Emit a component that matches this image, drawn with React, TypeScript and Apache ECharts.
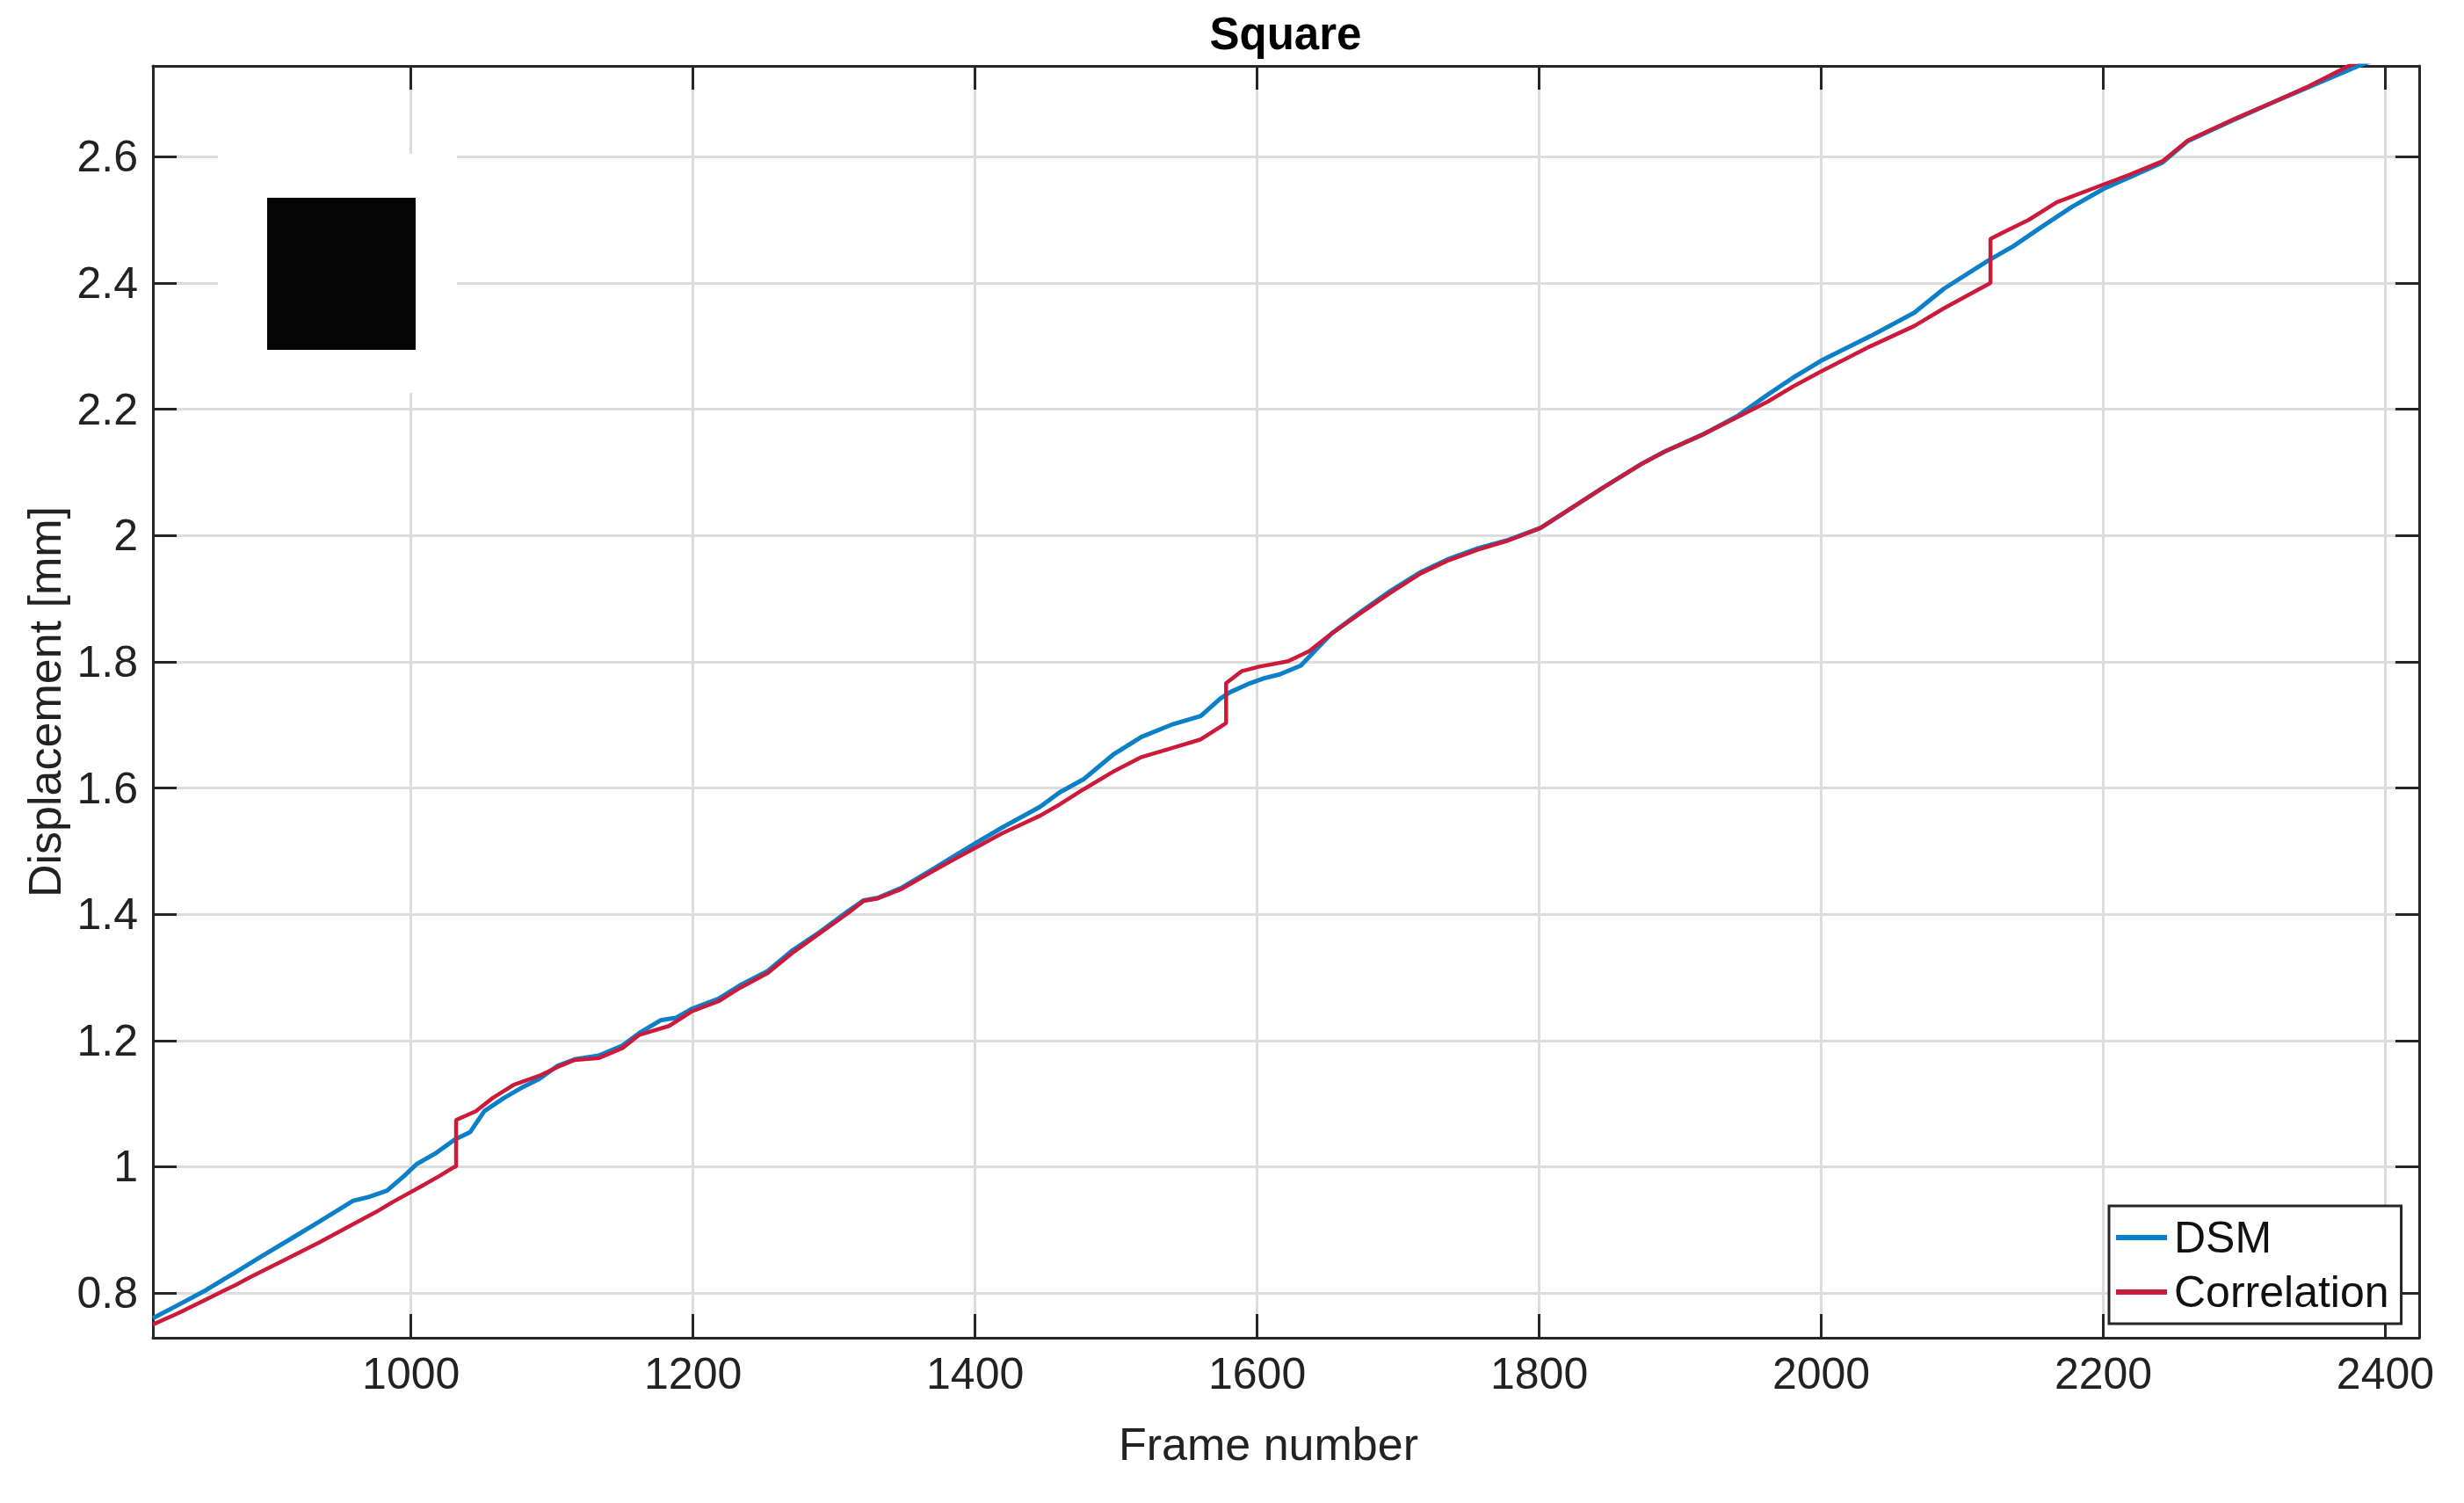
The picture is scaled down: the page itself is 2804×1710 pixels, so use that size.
import React, { useEffect, useRef } from "react";
import * as echarts from "echarts";

const chartTitle = "Square";
const xName = "Frame number";
const yName = "Displacement [mm]";
const seriesNames = ["DSM", "Correlation"];

const xTicks = [1000, 1200, 1400, 1600, 1800, 2000, 2200, 2400];
const yTicks = [0.8, 1, 1.2, 1.4, 1.6, 1.8, 2, 2.2, 2.4, 2.6];

const dsmFrames = [
  817, 835, 855, 875, 894, 915, 935, 959, 970, 983, 995, 1004, 1018, 1031, 1042, 1052, 1066, 1080,
  1091, 1104, 1116, 1133, 1150, 1162, 1177, 1188, 1199, 1218, 1233, 1253, 1270, 1290, 1310, 1321,
  1331, 1348, 1369, 1385, 1400, 1419, 1446, 1460, 1477, 1498, 1518, 1539, 1560, 1574, 1581, 1595,
  1605, 1616, 1631, 1643, 1653, 1674, 1695, 1716, 1736, 1757, 1778, 1801, 1817, 1844, 1873, 1889,
  1916, 1941, 1962, 1980, 2000, 2035, 2066, 2087, 2118, 2136, 2157, 2178, 2200, 2219, 2242, 2260,
  2291, 2322, 2343, 2382, 2424,
];
const dsmValues = [
  0.76, 0.781, 0.805, 0.832, 0.858, 0.886, 0.913, 0.946, 0.952, 0.962, 0.985, 1.004, 1.022, 1.043,
  1.055, 1.088, 1.109, 1.127, 1.139, 1.16, 1.17, 1.176, 1.192, 1.212, 1.232, 1.236, 1.25, 1.266,
  1.287, 1.31, 1.342, 1.372, 1.405, 1.422, 1.426, 1.442, 1.47, 1.492, 1.512, 1.537, 1.57, 1.593,
  1.614, 1.653, 1.681, 1.7, 1.714, 1.742, 1.752, 1.766, 1.774, 1.78, 1.794, 1.822, 1.845, 1.88,
  1.913, 1.942, 1.963, 1.98, 1.993, 2.012, 2.035, 2.074, 2.114, 2.133, 2.16, 2.19, 2.223, 2.25,
  2.277, 2.316, 2.353, 2.391, 2.435, 2.458, 2.49, 2.521, 2.549, 2.568, 2.591, 2.625, 2.657, 2.688,
  2.708, 2.745, 2.78,
];

const corrFrames = [
  817, 835, 855, 875, 887, 910, 935, 959, 975, 987, 1005, 1020, 1031, 1032, 1032, 1046, 1058, 1073,
  1091, 1104, 1116, 1133, 1150, 1162, 1183, 1199, 1218, 1233, 1253, 1270, 1290, 1310, 1321, 1331,
  1348, 1369, 1385, 1400, 1419, 1446, 1460, 1477, 1498, 1518, 1539, 1560, 1574, 1578, 1578, 1589,
  1601, 1622, 1637, 1653, 1674, 1695, 1716, 1736, 1757, 1778, 1801, 1817, 1844, 1873, 1889, 1916,
  1941, 1962, 1980, 2000, 2035, 2066, 2087, 2105, 2120, 2120, 2128, 2147, 2167, 2200, 2219, 2242,
  2260, 2291, 2322, 2343, 2374, 2424,
];
const corrValues = [
  0.75, 0.768, 0.79, 0.812, 0.826, 0.852, 0.88, 0.909, 0.928, 0.944, 0.966, 0.985, 1.0, 1.0, 1.074,
  1.088, 1.109, 1.13, 1.144, 1.158, 1.169, 1.172, 1.188, 1.209, 1.223, 1.246, 1.262, 1.283, 1.307,
  1.338, 1.37, 1.402, 1.421, 1.425, 1.44, 1.467, 1.487, 1.505, 1.528, 1.556, 1.574, 1.598, 1.626,
  1.649, 1.663, 1.677, 1.697, 1.703, 1.766, 1.785, 1.792, 1.801, 1.817, 1.845, 1.878, 1.91, 1.94,
  1.961, 1.978, 1.992, 2.012, 2.035, 2.074, 2.114, 2.133, 2.16, 2.188, 2.212, 2.236, 2.26, 2.3,
  2.332, 2.36, 2.382, 2.4, 2.47, 2.479, 2.5, 2.528, 2.556, 2.572, 2.593, 2.626, 2.658, 2.688, 2.709,
  2.744, 2.79,
];

const X_MIN = 817;
const X_MAX = 2424;
const Y_MIN = 0.729;
const Y_MAX = 2.744;

const FONT = "'Liberation Sans', Arial, Helvetica, sans-serif";
const AXIS_COLOR = "#262626";
const GRID_COLOR = "#dcdcdc";
const BLUE = "#0b80c8";
const RED = "#cc1a3a";

export default function App() {
  const ref = useRef<HTMLDivElement>(null);

  useEffect(() => {
    document.body.style.margin = "0";
    if (!ref.current) return;
    const chart = echarts.init(ref.current, null, { renderer: "svg" });

    const dsm = dsmFrames.map((f, i) => [f, dsmValues[i]]);
    const corr = corrFrames.map((f, i) => [f, corrValues[i]]);

    const axisLine = { show: true, onZero: false, lineStyle: { color: AXIS_COLOR, width: 3 } };
    const plain = (v: number) => String(v);

    chart.setOption({
      animation: false,
      backgroundColor: "#ffffff",
      textStyle: { fontFamily: FONT },
      title: {
        text: chartTitle,
        left: 1463,
        textAlign: "center",
        top: 13,
        padding: 0,
        textStyle: { fontFamily: FONT, fontSize: 51, fontWeight: "bold", color: "#000" },
      },
      grid: { left: 174, right: 51, top: 75, bottom: 188, containLabel: false },
      legend: {
        orient: "vertical",
        left: 2400,
        top: 1372,
        data: seriesNames,
        icon: "rect",
        itemWidth: 58,
        itemHeight: 6,
        itemGap: 6,
        padding: [8, 14, 8, 8],
        backgroundColor: "#ffffff",
        borderColor: AXIS_COLOR,
        borderWidth: 3,
        textStyle: {
          fontFamily: FONT,
          fontSize: 50,
          color: "#111",
          lineHeight: 56,
          padding: [0, 0, 0, 3],
        },
      },
      xAxis: [
        {
          type: "value",
          min: X_MIN,
          max: X_MAX,
          position: "bottom",
          name: xName,
          nameLocation: "middle",
          nameGap: 95,
          nameTextStyle: {
            fontFamily: FONT,
            fontSize: 52,
            color: "#222",
            padding: [0, 40, 0, 0],
          },
          axisLine,
          axisTick: {
            show: true,
            inside: true,
            length: 27,
            lineStyle: { color: AXIS_COLOR, width: 3 },
            customValues: xTicks,
          },
          axisLabel: {
            show: true,
            customValues: xTicks,
            formatter: plain,
            margin: 16,
            fontFamily: FONT,
            fontSize: 50,
            color: "#222",
          },
          splitLine: { show: true, lineStyle: { color: GRID_COLOR, width: 3 } },
        },
        {
          type: "value",
          min: X_MIN,
          max: X_MAX,
          position: "top",
          axisLine,
          axisTick: {
            show: true,
            inside: true,
            length: 27,
            lineStyle: { color: AXIS_COLOR, width: 3 },
            customValues: xTicks,
          },
          axisLabel: { show: false },
          splitLine: { show: false },
        },
      ],
      yAxis: [
        {
          type: "value",
          min: Y_MIN,
          max: Y_MAX,
          position: "left",
          name: yName,
          nameLocation: "middle",
          nameGap: 92,
          nameTextStyle: { fontFamily: FONT, fontSize: 52, color: "#222" },
          axisLine,
          axisTick: {
            show: true,
            inside: true,
            length: 27,
            lineStyle: { color: AXIS_COLOR, width: 3 },
            customValues: yTicks,
          },
          axisLabel: {
            show: true,
            customValues: yTicks,
            formatter: plain,
            margin: 17,
            fontFamily: FONT,
            fontSize: 50,
            color: "#222",
          },
          splitLine: { show: true, lineStyle: { color: GRID_COLOR, width: 3 } },
        },
        {
          type: "value",
          min: Y_MIN,
          max: Y_MAX,
          position: "right",
          axisLine,
          axisTick: {
            show: true,
            inside: true,
            length: 27,
            lineStyle: { color: AXIS_COLOR, width: 3 },
            customValues: yTicks,
          },
          axisLabel: { show: false },
          splitLine: { show: false },
        },
      ],
      series: [
        {
          name: seriesNames[0],
          type: "line",
          data: dsm,
          showSymbol: false,
          symbol: "none",
          clip: true,
          itemStyle: { color: BLUE },
          lineStyle: { color: BLUE, width: 5 },
          z: 3,
        },
        {
          name: seriesNames[1],
          type: "line",
          data: corr,
          showSymbol: false,
          symbol: "none",
          clip: true,
          itemStyle: { color: RED },
          lineStyle: { color: RED, width: 4.5 },
          z: 4,
        },
      ],
      graphic: [
        {
          type: "rect",
          z: 50,
          shape: { x: 248, y: 175, width: 272, height: 272 },
          style: { fill: "#ffffff" },
        },
        {
          type: "rect",
          z: 51,
          shape: { x: 304, y: 225, width: 169, height: 173 },
          style: { fill: "#050505" },
        },
      ],
    });

    return () => chart.dispose();
  }, []);

  return <div ref={ref} style={{ width: 2804, height: 1710 }} />;
}
